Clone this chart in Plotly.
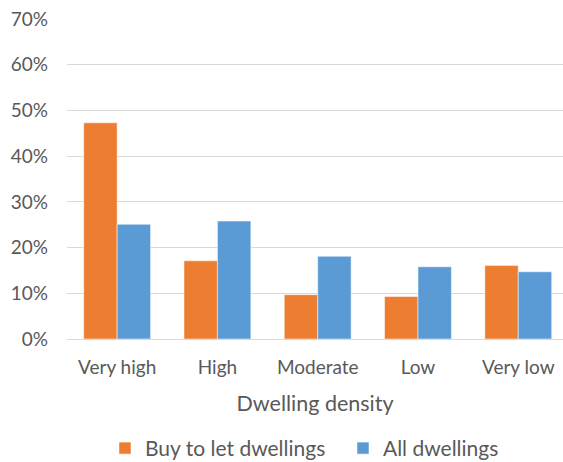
import plotly.graph_objects as go

# Share of dwellings by dwelling density
categories = ["Very high", "High", "Moderate", "Low", "Very low"]
buy_to_let = [0.473, 0.171, 0.097, 0.093, 0.161]
all_dwellings = [0.251, 0.258, 0.181, 0.158, 0.147]
y_ticks = [0, 0.1, 0.2, 0.3, 0.4, 0.5, 0.6, 0.7]
y_tick_labels = ["0%", "10%", "20%", "30%", "40%", "50%", "60%", "70%"]

ORANGE = "#ED7D31"
BLUE = "#5B9BD5"
TEXT = "#595959"
GRID = "#D9D9D9"
FONT = "Lato"

fig = go.Figure()
fig.add_trace(go.Bar(
    x=categories, y=buy_to_let, name="Buy to let dwellings",
    marker=dict(color=ORANGE, line=dict(color="rgba(255,255,255,0.5)", width=1)),
))
fig.add_trace(go.Bar(
    x=categories, y=all_dwellings, name="All dwellings",
    marker=dict(color=BLUE, line=dict(color="rgba(255,255,255,0.5)", width=1)),
))

fig.update_layout(
    width=563, height=462,
    margin=dict(l=67, r=0, t=19, b=123, pad=0, autoexpand=False),
    paper_bgcolor="white", plot_bgcolor="white",
    barmode="group", bargap=0.333, bargroupgap=0,
    font=dict(family=FONT, color=TEXT, size=19),
    showlegend=True,
    legend=dict(
        orientation="h", x=0.0766, xanchor="left", y=-0.342, yanchor="middle",
        font=dict(family=FONT, color=TEXT, size=21),
        itemwidth=30, entrywidth=193, traceorder="normal",
    ),
    hovermode=False,
)
fig.update_xaxes(
    range=[-0.5, 4.446], showgrid=False, showline=False, zeroline=False,
    ticks="", ticklabelstandoff=15, automargin=False,
    tickfont=dict(family=FONT, color=TEXT, size=19),
    title=dict(text="Dwelling density", standoff=18,
               font=dict(family=FONT, color=TEXT, size=21.5)),
)
fig.update_yaxes(
    range=[0, 0.7], tickvals=y_ticks, ticktext=y_tick_labels,
    showgrid=True, gridcolor=GRID, gridwidth=1.3,
    zeroline=True, zerolinecolor=GRID, zerolinewidth=1.3,
    showline=False, ticks="", ticklabelstandoff=18, automargin=False,
    tickfont=dict(family=FONT, color=TEXT, size=19),
)

fig.write_html("out.html", config={"displayModeBar": False})
